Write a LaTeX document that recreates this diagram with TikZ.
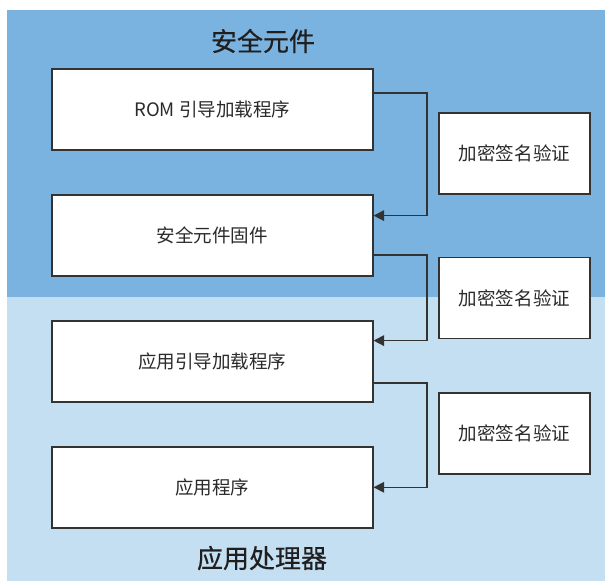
\documentclass[tikz,border=0pt]{standalone}
\usepackage{fontspec}
\setmainfont{Noto Sans CJK SC}
\newfontfamily\titlefont[BoldFont={Noto Sans CJK SC},BoldFeatures={FakeBold=0.5}]{Noto Sans CJK SC}
\usetikzlibrary{calc,arrows.meta}
\definecolor{topblue}{HTML}{7BB3E0}
\definecolor{botblue}{HTML}{C5DFF2}
\definecolor{edge}{HTML}{333333}
\definecolor{txt}{HTML}{2A2A2A}
\begin{document}
\begin{tikzpicture}[x=0.75pt,y=-0.75pt,
  stagebox/.style={draw=edge,line width=1.1pt,fill=white,minimum width=240.75pt,minimum height=60.75pt,inner sep=0pt,text=txt,font=\fontsize{13.9}{16}\selectfont},
  verifbox/.style={draw=edge,line width=1.1pt,fill=white,minimum width=113.25pt,minimum height=60.75pt,inner sep=0pt,text=txt,font=\fontsize{13.9}{16}\selectfont},
  conn/.style={draw=edge,line width=1.1pt,-{Triangle[length=8pt,width=8pt]}},
  zonetitle/.style={text=black!88,font=\titlefont\bfseries\fontsize{19.5}{22}\selectfont,inner sep=0pt}]
\useasboundingbox (0,0) rectangle (605,582);
\fill[topblue] (7,10) rectangle (605,297.3);
\fill[botblue] (7,297.3) rectangle (605,581);
\node[zonetitle] (t1) at (263,41) {安全元件};
\node[zonetitle] (t2) at (262,558) {应用处理器};
\node[stagebox] (b1) at (212.3,109.6) {ROM 引导加载程序};
\node[stagebox] (b2) at (212.3,235.6) {安全元件固件};
\node[stagebox] (b3) at (212.3,361.6) {应用引导加载程序};
\node[stagebox] (b4) at (212.3,487.3) {应用程序};
\node[verifbox] (v1) at (514.5,153.5) {加密签名验证};
\node[verifbox] (v2) at (514.5,298) {加密签名验证};
\node[verifbox] (v3) at (514.5,433.5) {加密签名验证};
\draw[conn] ($(b1.east)+(0,-16.5)$) -- ++(53.3,0) |- ($(b2.east)+(0,-20)$);
\draw[conn] ($(b2.east)+(0,19.2)$) -- ++(53.3,0) |- ($(b3.east)+(0,-21)$);
\draw[conn] ($(b3.east)+(0,21.5)$) -- ++(53.3,0) |- ($(b4.east)+(0,0)$);
\end{tikzpicture}
\end{document}
